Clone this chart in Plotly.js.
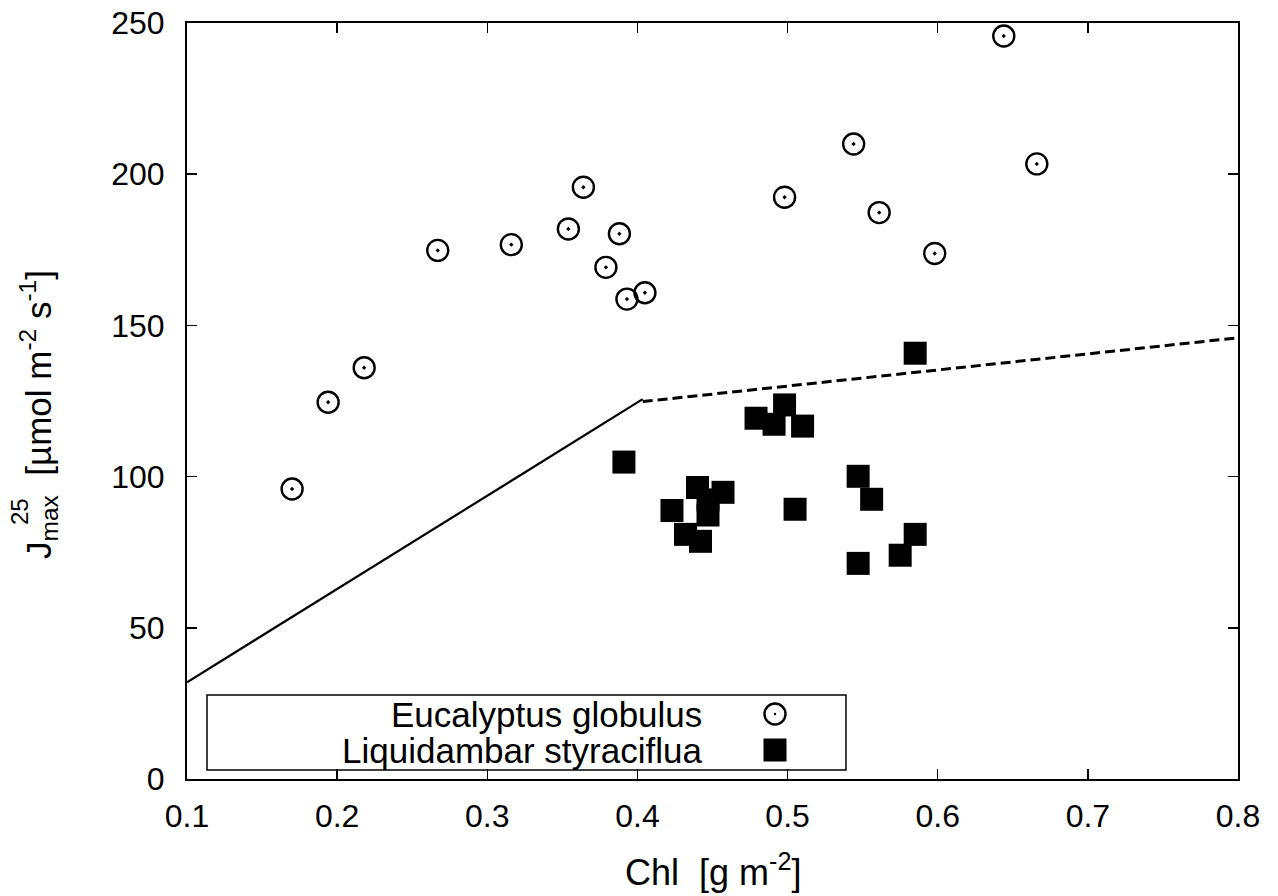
<!DOCTYPE html>
<html>
<head>
<meta charset="utf-8">
<script src="https://cdn.plot.ly/plotly-3.0.1.min.js"></script>
<style>html,body{margin:0;padding:0;background:#fff;}#chart{width:1278px;height:896px;}</style>
</head>
<body>
<div id="chart"></div>
<script>
// Eucalyptus globulus (open circles with dot)
const eucChl = [0.170, 0.194, 0.218, 0.267, 0.316, 0.354, 0.364, 0.379, 0.388, 0.393, 0.405, 0.498, 0.544, 0.561, 0.598, 0.644, 0.666];
const eucJmax = [95.9, 124.6, 136.0, 174.8, 176.7, 181.9, 195.7, 169.2, 180.3, 158.7, 160.8, 192.4, 210.0, 187.3, 173.8, 245.7, 203.4];

// Liquidambar styraciflua (filled squares)
const liqChl = [0.391, 0.423, 0.432, 0.440, 0.442, 0.447, 0.447, 0.457, 0.479, 0.491, 0.498, 0.505, 0.510, 0.547, 0.547, 0.556, 0.575, 0.585, 0.585];
const liqJmax = [104.8, 88.8, 80.9, 96.4, 78.6, 92.3, 87.3, 94.8, 119.3, 117.3, 123.7, 89.2, 116.7, 100.1, 71.3, 92.5, 74.0, 80.9, 140.8];

// Model lines: solid (limited) and dashed (saturating)
const solidChl = [0.1, 0.4035];
const solidJ = [32.0, 125.6];
const dashChl = [0.4035, 0.8];
const dashJ = [124.8, 145.9];

// Tick labels
const xTicks = [0.1, 0.2, 0.3, 0.4, 0.5, 0.6, 0.7, 0.8];
const xTickText = ["0.1", "0.2", "0.3", "0.4", "0.5", "0.6", "0.7", "0.8"];
const yTicks = [0, 50, 100, 150, 200, 250];
const yTickText = ["0", "50", "100", "150", "200", "250"];

const legendNames = ["Eucalyptus globulus", "Liquidambar styraciflua"];

const FONT = "Liberation Sans, Arial, sans-serif";

const traces = [
  {x: solidChl, y: solidJ, mode: "lines", line: {color: "#000", width: 2.2}, showlegend: false, hoverinfo: "skip"},
  {x: dashChl, y: dashJ, mode: "lines", line: {color: "#000", width: 3, dash: "10px,5px"}, showlegend: false, hoverinfo: "skip"},
  {x: eucChl, y: eucJmax, mode: "markers", name: legendNames[0],
   marker: {symbol: "circle-open-dot", size: 21, color: "#000", line: {width: 2.4, color: "#000"}}, showlegend: false},
  {x: liqChl, y: liqJmax, mode: "markers", name: legendNames[1],
   marker: {symbol: "square", size: 23, color: "#000", line: {width: 0}}, showlegend: false}
];

// plot pixel geometry: x 187..1238, y 23..779
const L = 187, R = 1238, T = 23, B = 779;
const W = R - L, H = B - T;
const px = v => (v - L) / W;
const py = v => (B - v) / H;

const layout = {
  width: 1278, height: 896,
  margin: {l: L, r: 1278 - R, t: T, b: 896 - B},
  paper_bgcolor: "#fff", plot_bgcolor: "#fff",
  font: {family: FONT, color: "#000", size: 32},
  showlegend: false,
  xaxis: {
    range: [0.1, 0.8], tickvals: xTicks, ticktext: xTickText,
    ticks: "inside", ticklen: 10, tickwidth: 1.5, tickcolor: "#000",
    showline: true, linewidth: 2, linecolor: "#000", mirror: "ticks",
    showgrid: false, zeroline: false,
    tickfont: {family: FONT, size: 32, color: "#000"}, ticklabelstandoff: 8
  },
  yaxis: {
    range: [0, 250], tickvals: yTicks, ticktext: yTickText,
    ticks: "inside", ticklen: 10, tickwidth: 1.5, tickcolor: "#000",
    showline: true, linewidth: 2, linecolor: "#000", mirror: "ticks",
    showgrid: false, zeroline: false,
    tickfont: {family: FONT, size: 32, color: "#000"}, ticklabelstandoff: 14
  },
  annotations: [
    {xref: "paper", yref: "paper", x: 0.5, y: py(870), xanchor: "center", yanchor: "middle",
     text: "Chl  [g m<sup>-2</sup>]", showarrow: false, font: {family: FONT, size: 36}},
    {xref: "paper", yref: "paper", x: px(38), y: py(414), xanchor: "center", yanchor: "middle",
     textangle: -90, text: "J<sub>max</sub>  [µmol m<sup>-2</sup> s<sup>-1</sup>]", showarrow: false,
     font: {family: FONT, size: 35}},
    {xref: "paper", yref: "paper", x: px(20), y: py(512), xanchor: "center", yanchor: "middle",
     textangle: -90, text: "25", showarrow: false, font: {family: FONT, size: 24}},
    {xref: "paper", yref: "paper", x: px(704), y: py(714), xanchor: "right", yanchor: "middle",
     text: legendNames[0], showarrow: false, font: {family: FONT, size: 35}},
    {xref: "paper", yref: "paper", x: px(704), y: py(750), xanchor: "right", yanchor: "middle",
     text: legendNames[1], showarrow: false, font: {family: FONT, size: 35}}
  ],
  shapes: [
    {type: "rect", xref: "paper", yref: "paper", x0: px(207), x1: px(846), y0: py(770), y1: py(695),
     line: {color: "#000", width: 1.5}, fillcolor: "rgba(0,0,0,0)", layer: "above"},
    {type: "circle", xref: "paper", yref: "paper", xsizemode: "pixel", ysizemode: "pixel",
     xanchor: px(775), yanchor: py(714), x0: -10.5, x1: 10.5, y0: -10.5, y1: 10.5,
     line: {color: "#000", width: 2.4}, layer: "above"},
    {type: "circle", xref: "paper", yref: "paper", xsizemode: "pixel", ysizemode: "pixel",
     xanchor: px(775), yanchor: py(714), x0: -1.2, x1: 1.2, y0: -1.2, y1: 1.2,
     line: {color: "#000", width: 0}, fillcolor: "#000", layer: "above"},
    {type: "rect", xref: "paper", yref: "paper", xsizemode: "pixel", ysizemode: "pixel",
     xanchor: px(775), yanchor: py(750), x0: -11.5, x1: 11.5, y0: -11.5, y1: 11.5,
     line: {color: "#000", width: 0}, fillcolor: "#000", layer: "above"}
  ]
};

Plotly.newPlot("chart", traces, layout, {staticPlot: true, displayModeBar: false});
</script>
</body>
</html>
